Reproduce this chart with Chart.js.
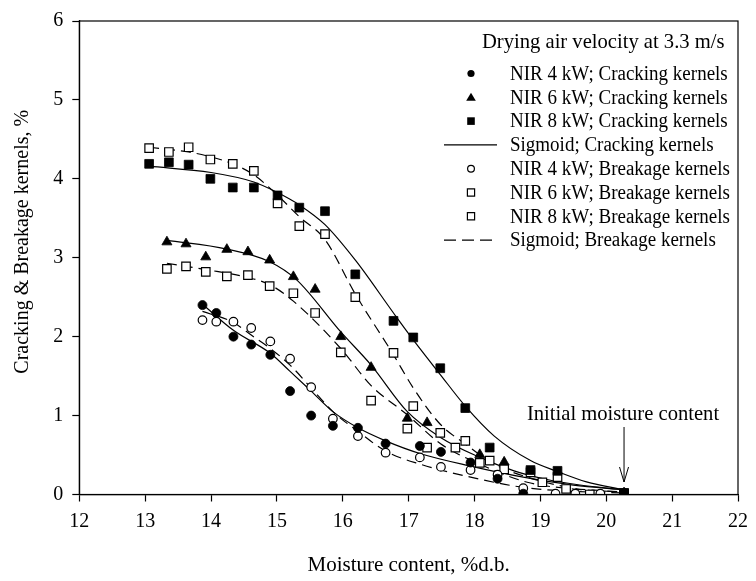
<!DOCTYPE html>
<html>
<head>
<meta charset="utf-8">
<script src="https://cdn.jsdelivr.net/npm/chart.js@4.4.1/dist/chart.umd.min.js"></script>
<style>
html,body{margin:0;padding:0;background:#fff;}
#wrap{width:756px;height:581px;}
</style>
</head>
<body>
<div id="wrap"><canvas id="c" width="756" height="581"></canvas></div>
<script>
// ---- Data ----
const xTitle = 'Moisture content, %d.b.';
const yTitle = 'Cracking & Breakage kernels, %';
const legendTitle = 'Drying air velocity at 3.3 m/s';
const noteText = 'Initial moisture content';
const noteX = 20.27;
const xTicks = [12,13,14,15,16,17,18,19,20,21,22];
const yTicks = [0,1,2,3,4,5,6];

const cr4X = [13.87,14.08,14.34,14.61,14.90,15.20,15.52,15.85,16.23,16.65,17.17,17.49,17.94,18.35,18.74,20.27];
const cr4Y = [2.40,2.30,2.00,1.90,1.77,1.31,1.00,0.87,0.845,0.645,0.615,0.54,0.405,0.20,0.01,0.02];

const cr6X = [13.33,13.62,13.92,14.24,14.56,14.89,15.25,15.58,15.97,16.43,16.98,17.28,18.08,18.45,20.27];
const cr6Y = [3.20,3.175,3.01,3.105,3.075,2.97,2.76,2.60,2.00,1.61,0.965,0.91,0.505,0.41,0.02];

const cr8X = [13.06,13.36,13.66,13.99,14.33,14.65,15.01,15.34,15.73,16.19,16.77,17.07,17.48,17.86,18.23,18.85,19.26,20.27];
const cr8Y = [4.19,4.21,4.18,4.00,3.89,3.89,3.79,3.635,3.59,2.79,2.20,1.99,1.60,1.095,0.595,0.31,0.30,0.02];

const br4X = [13.87,14.08,14.34,14.61,14.90,15.20,15.52,15.85,16.23,16.65,17.17,17.49,17.94,18.35,18.74,19.23,19.53,19.91,20.27];
const br4Y = [2.21,2.19,2.19,2.11,1.94,1.72,1.36,0.96,0.74,0.53,0.47,0.35,0.31,0.25,0.08,0.01,0.01,0.01,0.01];

const br6X = [13.33,13.62,13.92,14.24,14.56,14.89,15.25,15.58,15.97,16.43,16.98,17.28,17.71,18.08,18.45,19.03,19.75,20.27];
const br6Y = [2.86,2.89,2.82,2.765,2.78,2.64,2.55,2.30,1.80,1.19,0.835,0.595,0.595,0.40,0.32,0.155,0.00,0.01];

const br8X = [13.06,13.36,13.66,13.99,14.33,14.65,15.01,15.34,15.73,16.19,16.77,17.07,17.48,17.86,18.23,18.85,19.26,19.39,19.86,20.27];
const br8Y = [4.39,4.34,4.40,4.245,4.19,4.10,3.69,3.40,3.30,2.50,1.795,1.12,0.78,0.68,0.43,0.28,0.22,0.07,0.00,0.01];

// Sigmoid curves
const fitCr8X = [13.06,14.0,14.65,15.0,15.34,15.73,16.2,16.77,17.07,17.48,17.86,18.3,18.85,19.26,19.7,20.27];
const fitCr8Y = [4.16,4.08,3.96,3.83,3.67,3.42,2.96,2.30,1.96,1.52,1.12,0.74,0.43,0.29,0.16,0.06];

const fitCr6X = [13.33,14.24,14.89,15.3,15.97,16.43,16.98,17.49,18.08,18.6,19.05,19.6,20.27];
const fitCr6Y = [3.22,3.11,2.95,2.72,2.06,1.64,1.05,0.72,0.47,0.30,0.20,0.12,0.06];

const fitCr4X = [13.87,14.34,14.9,15.2,15.52,15.85,16.23,16.65,17.17,17.94,18.74,19.5,20.27];
const fitCr4Y = [2.41,2.08,1.79,1.56,1.31,1.05,0.845,0.68,0.52,0.36,0.22,0.12,0.06];

const fitBr8X = [13.06,13.66,13.99,14.33,14.65,15.0,15.34,15.73,16.19,16.77,17.07,17.48,17.86,18.3,18.8,19.5,20.27];
const fitBr8Y = [4.40,4.34,4.28,4.19,4.05,3.80,3.52,3.23,2.54,1.77,1.35,0.89,0.64,0.385,0.22,0.08,0.03];

const fitBr6X = [13.33,13.92,14.56,14.89,15.25,15.97,16.43,16.98,17.49,18.08,18.8,19.5,20.27];
const fitBr6Y = [2.93,2.85,2.75,2.66,2.45,1.85,1.38,1.01,0.64,0.385,0.155,0.07,0.03];

const fitBr4X = [13.87,14.34,14.61,14.9,15.2,15.52,15.85,16.23,16.65,17.17,17.94,18.74,19.5,20.27];
const fitBr4Y = [2.32,2.18,2.02,1.85,1.64,1.35,1.05,0.80,0.55,0.385,0.22,0.09,0.04,0.02];

const legendLabels = [
  'NIR 4 kW; Cracking kernels',
  'NIR 6 kW; Cracking kernels',
  'NIR 8 kW; Cracking kernels',
  'Sigmoid; Cracking kernels',
  'NIR 4 kW; Breakage kernels',
  'NIR 6 kW; Breakage kernels',
  'NIR 8 kW; Breakage kernels',
  'Sigmoid; Breakage kernels'
];

// ---- Build chart ----
const FONT = '"Liberation Serif", "Times New Roman", serif';
const pts = (xs, ys) => xs.map((x, i) => ({x: x, y: ys[i]}));

function markerDs(label, xs, ys, style, radius, filled) {
  return {
    type: 'scatter', label: label, data: pts(xs, ys),
    pointStyle: style, pointRadius: radius, pointHoverRadius: radius,
    backgroundColor: filled ? '#000' : '#fff',
    borderColor: '#000', borderWidth: filled ? 0.8 : 1.2,
    showLine: false, order: 1
  };
}
function fitDs(label, xs, ys, dashed) {
  return {
    type: 'line', label: label, data: pts(xs, ys),
    borderColor: '#000', borderWidth: 1.2, borderDash: dashed ? [10, 6] : [],
    pointRadius: 0, fill: false, cubicInterpolationMode: 'monotone',
    order: 5
  };
}

const datasets = [
  fitDs('Sigmoid; Cracking kernels 8', fitCr8X, fitCr8Y, false),
  fitDs('Sigmoid; Cracking kernels 6', fitCr6X, fitCr6Y, false),
  fitDs('Sigmoid; Cracking kernels 4', fitCr4X, fitCr4Y, false),
  fitDs('Sigmoid; Breakage kernels 8', fitBr8X, fitBr8Y, true),
  fitDs('Sigmoid; Breakage kernels 6', fitBr6X, fitBr6Y, true),
  fitDs('Sigmoid; Breakage kernels 4', fitBr4X, fitBr4Y, true),
  markerDs(legendLabels[0], cr4X, cr4Y, 'circle', 4.5, true),
  markerDs(legendLabels[1], cr6X, cr6Y, 'triangle', 5.8, true),
  markerDs(legendLabels[2], cr8X, cr8Y, 'rect', 6.2, true),
  markerDs(legendLabels[4], br4X, br4Y, 'circle', 4.3, false),
  markerDs(legendLabels[5], br6X, br6Y, 'rect', 6.0, false),
  markerDs(legendLabels[6], br8X, br8Y, 'rect', 6.0, false)
];

const decor = {
  id: 'decor',
  afterDraw(chart) {
    const ctx = chart.ctx;
    const a = chart.chartArea;
    const xs = chart.scales.x;
    ctx.save();
    // frame
    ctx.strokeStyle = '#000'; ctx.lineWidth = 1.2; ctx.setLineDash([]);
    ctx.strokeRect(a.left, a.top, a.right - a.left, a.bottom - a.top);
    // y title
    ctx.fillStyle = '#000';
    ctx.font = '20px ' + FONT;
    ctx.save();
    ctx.translate(23, (a.top + a.bottom) / 2 - 16);
    ctx.rotate(-Math.PI / 2);
    ctx.textAlign = 'center'; ctx.textBaseline = 'middle';
    ctx.fillText(yTitle, 0, 0);
    ctx.restore();
    // legend
    ctx.textAlign = 'left'; ctx.textBaseline = 'middle';
    ctx.font = '20.6px ' + FONT;
    ctx.fillText(legendTitle, 482, 43);
    ctx.font = '20px ' + FONT;
    const symX = 471, textX = 510, row0 = 73.5, dy = 23.8;
    legendLabels.forEach((lab, i) => {
      const y = row0 + i * dy;
      ctx.fillStyle = '#000';
      const w = ctx.measureText(lab).width;
      ctx.fillText(lab, textX, y + 1, w * 0.95);
      ctx.lineWidth = 1.2; ctx.strokeStyle = '#000';
      ctx.beginPath();
      if (i === 0) { ctx.arc(symX, y, 3.6, 0, Math.PI * 2); ctx.fill(); }
      else if (i === 1) { ctx.moveTo(symX, y - 4.5); ctx.lineTo(symX + 4.8, y + 3.5); ctx.lineTo(symX - 4.8, y + 3.5); ctx.closePath(); ctx.fill(); }
      else if (i === 2) { ctx.rect(symX - 3.8, y - 3.8, 7.6, 7.6); ctx.fill(); }
      else if (i === 3) { ctx.setLineDash([]); ctx.moveTo(444, y); ctx.lineTo(497, y); ctx.stroke(); }
      else if (i === 4) { ctx.arc(symX, y, 3.4, 0, Math.PI * 2); ctx.stroke(); }
      else if (i === 5 || i === 6) { ctx.rect(symX - 3.6, y - 3.6, 7.2, 7.2); ctx.stroke(); }
      else if (i === 7) { ctx.setLineDash([12, 6]); ctx.moveTo(444, y); ctx.lineTo(494, y); ctx.stroke(); ctx.setLineDash([]); }
    });
    // annotation
    const ax = xs.getPixelForValue(noteX);
    ctx.fillStyle = '#000';
    ctx.font = '20.6px ' + FONT;
    ctx.textAlign = 'center'; ctx.textBaseline = 'middle';
    ctx.fillText(noteText, ax - 1, 415);
    ctx.lineWidth = 1; ctx.strokeStyle = '#000';
    ctx.beginPath();
    ctx.moveTo(ax, 427); ctx.lineTo(ax, 482);
    ctx.moveTo(ax - 4.5, 467); ctx.lineTo(ax, 482); ctx.lineTo(ax + 4.5, 467);
    ctx.stroke();
    ctx.restore();
  }
};

new Chart(document.getElementById('c'), {
  data: { datasets: datasets },
  options: {
    responsive: false, animation: false,
    layout: { padding: { top: 16, right: 10, left: 0, bottom: 0 } },
    plugins: { legend: { display: false }, tooltip: { enabled: false } },
    scales: {
      x: {
        type: 'linear', min: 12, max: 22,
        afterFit: s => { s.height = 86.5; },
        afterBuildTicks: s => { s.ticks = xTicks.map(v => ({value: v})); },
        ticks: { color: '#000', font: { family: FONT, size: 20 }, padding: 8 },
        grid: { display: true, drawOnChartArea: false, tickLength: 7, color: '#000', tickWidth: 1.2 },
        border: { display: true, color: '#000', width: 1.2 },
        title: { display: true, text: xTitle, color: '#000', font: { family: FONT, size: 21 }, padding: { top: 4, bottom: 3 } }
      },
      y: {
        type: 'linear', min: 0, max: 6,
        afterFit: s => { s.width = 79.3; },
        afterBuildTicks: s => { s.ticks = yTicks.map(v => ({value: v})); },
        ticks: { color: '#000', font: { family: FONT, size: 20 }, padding: 9 },
        grid: { display: true, drawOnChartArea: false, tickLength: 7, color: '#000', tickWidth: 1.2 },
        border: { display: true, color: '#000', width: 1.2 }
      }
    }
  },
  plugins: [decor]
});
</script>
</body>
</html>
